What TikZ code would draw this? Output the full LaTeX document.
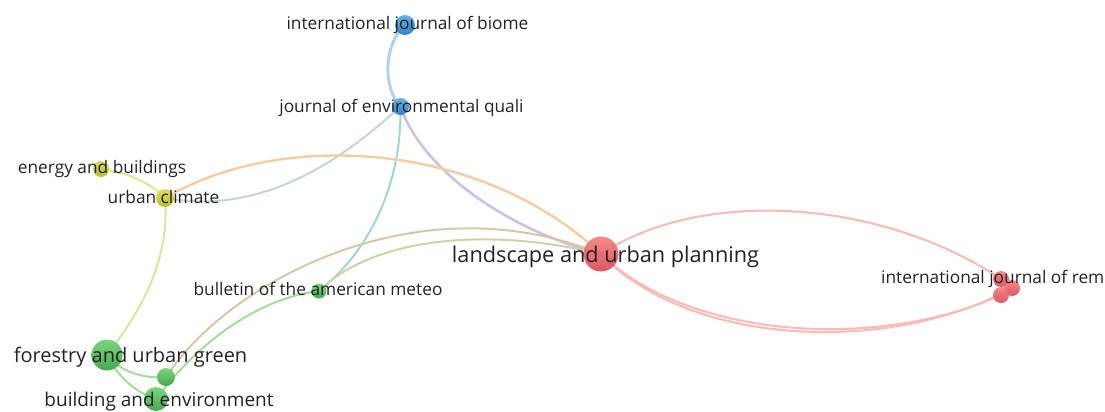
\documentclass[tikz,border=0pt]{standalone}
\usepackage{fontspec}
\setmainfont{Open Sans}
\definecolor{labc}{RGB}{35,35,35}
\definecolor{redT}{RGB}{246,125,125}\definecolor{redB}{RGB}{214,70,85}
\definecolor{bluT}{RGB}{105,178,232}\definecolor{bluB}{RGB}{50,130,192}
\definecolor{yelT}{RGB}{218,218,95}\definecolor{yelB}{RGB}{190,190,50}
\definecolor{grnT}{RGB}{125,212,125}\definecolor{grnB}{RGB}{68,170,80}
\definecolor{eBlue}{RGB}{175,210,242}
\definecolor{eLav}{RGB}{205,192,228}
\definecolor{eBG}{RGB}{195,215,210}
\definecolor{eTeal}{RGB}{160,215,205}
\definecolor{eOra}{RGB}{246,205,160}
\definecolor{eYel}{RGB}{228,228,140}
\definecolor{eYG}{RGB}{208,232,160}
\definecolor{eRed}{RGB}{255,185,180}
\definecolor{eBrn}{RGB}{218,198,165}
\definecolor{eGR}{RGB}{200,212,170}
\definecolor{eGrn}{RGB}{162,222,152}
\tikzset{
  vnode/.style={circle,inner sep=0pt,minimum size=#1},
  rednode/.style={vnode=#1,top color=redT,bottom color=redB,fill opacity=0.9},
  blunode/.style={vnode=#1,top color=bluT,bottom color=bluB},
  yelnode/.style={vnode=#1,top color=yelT,bottom color=yelB},
  grnnode/.style={vnode=#1,top color=grnT,bottom color=grnB},
  lab/.style={text=labc,inner sep=0pt,anchor=base,font=\fontsize{17.3}{20}\selectfont},
  edge/.style={line width=2pt,line cap=round},
}
\begin{document}
\begin{tikzpicture}[x=1pt,y=-1pt]
\useasboundingbox (0,0) rectangle (1105,412);
\clip (0,0) rectangle (1105,412);
% node positions
\coordinate (pbiome) at (405,25);
\coordinate (pjeq) at (400.5,106.5);
\coordinate (penergy) at (101,169);
\coordinate (puc) at (165,198);
\coordinate (pland) at (601,254);
\coordinate (premA) at (1001,279);
\coordinate (premB) at (1012,288);
\coordinate (premC) at (1001,295);
\coordinate (pbull) at (319,291);
\coordinate (pfor) at (107,355);
\coordinate (psg) at (166,377);
\coordinate (pbld) at (156,399);
% edges
\draw[edge,eBlue,line width=3pt] (pbiome) .. controls (383,45) and (383,88) .. (pjeq);
\draw[edge,eLav,line width=2.6pt] (pjeq) .. controls (420,165) and (500,228) .. (pland);
\draw[edge,eBG] (puc) .. controls (262,216) and (342,160) .. (pjeq);
\draw[edge,eTeal] (pjeq) .. controls (402,190) and (365,255) .. (pbull);
\draw[edge,eOra,line width=2.4pt] (puc) .. controls (280,130) and (480,140) .. (pland);
\draw[edge,eYel] (penergy) .. controls (125,172) and (150,182) .. (puc);
\draw[edge,eYG] (puc) .. controls (170,262) and (140,312) .. (pfor);
\draw[edge,eRed] (pland) .. controls (700,188) and (880,198) .. (premA);
\draw[edge,eRed] (pland) .. controls (690,340) and (880,350) .. (premC);
\draw[edge,eRed] (pland) .. controls (690,347) and (890,355) .. (premB);
\draw[edge,eBrn] (psg) .. controls (230,280) and (420,180) .. (pland);
\draw[edge,eGR] (pbull) .. controls (370,240) and (480,225) .. (pland);
\draw[edge,eGrn] (pbld) .. controls (200,340) and (260,298) .. (pbull);
\draw[edge,eGrn] (pfor) .. controls (120,372) and (145,379) .. (psg);
\draw[edge,eGrn] (pfor) .. controls (118,377) and (135,392) .. (pbld);
% nodes
\node[blunode=20pt] (biome) at (pbiome) {};
\node[blunode=17pt] (jeq) at (pjeq) {};
\node[yelnode=16pt] (energy) at (penergy) {};
\node[yelnode=18pt] (uc) at (puc) {};
\node[rednode=35pt] (land) at (pland) {};
\node[rednode=16pt] (remA) at (premA) {};
\node[rednode=16pt] (remB) at (premB) {};
\node[rednode=16pt] (remC) at (premC) {};
\node[grnnode=15pt] (bull) at (pbull) {};
\node[grnnode=31pt] (for) at (pfor) {};
\node[grnnode=18pt] (sg) at (psg) {};
\node[grnnode=24pt] (bld) at (pbld) {};
% labels
\node[lab] (lbiome) at (407.5,30) {international journal of biome};
\node[lab] (ljeq) at (401.5,112) {journal of environmental quali};
\node[lab] (lenergy) at (102,173.5) {energy and buildings};
\node[lab] (luc) at (163.5,203) {urban climate};
\node[lab,font=\fontsize{21.7}{25}\selectfont] (lland) at (605.5,262) {landscape and urban planning};
\node[lab,anchor=base west] (lrem) at (881,283.5) {international journal of rem};
\node[lab] (lbull) at (318,295.5) {bulletin of the american meteo};
\node[lab,font=\fontsize{20}{24}\selectfont] (lfor) at (130.5,362) {forestry and urban green};
\node[lab,font=\fontsize{19}{23}\selectfont] (lbld) at (159,406.5) {building and environment};
\end{tikzpicture}
\end{document}
